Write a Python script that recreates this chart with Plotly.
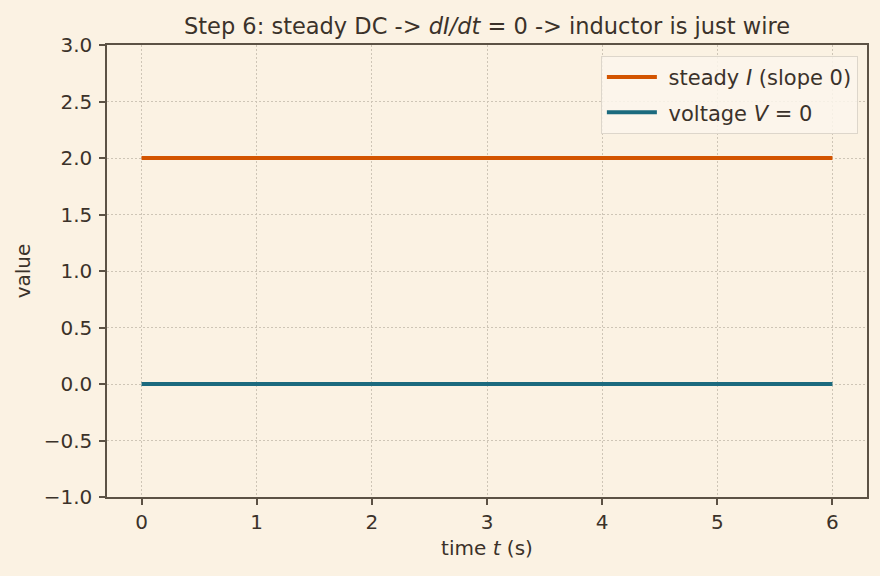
import plotly.graph_objects as go

t = [0, 6]
current = [2, 2]
voltage = [0, 0]

xticks = [0, 1, 2, 3, 4, 5, 6]
yticks = [-1.0, -0.5, 0.0, 0.5, 1.0, 1.5, 2.0, 2.5, 3.0]

bg = "#FBF2E3"
txt = "#3B322A"
axc = "#5C5245"
font = "DejaVu Sans"
pad = "\u00a0"

fig = go.Figure()
fig.add_trace(go.Scatter(x=t, y=current, mode="lines", name=pad + "steady <i>I</i> (slope 0)",
                         legendgroup="a",
                         line=dict(color="#D35400", width=4)))
fig.add_trace(go.Scatter(x=t, y=voltage, mode="lines", name=pad + "voltage <i>V</i> = 0",
                         legendgroup="b",
                         line=dict(color="#1B6A7E", width=4)))

fig.update_layout(
    width=880, height=576,
    paper_bgcolor=bg, plot_bgcolor=bg,
    margin=dict(l=107, r=13, t=45, b=79),
    font=dict(family=font, color=txt, size=19.5),
    title=dict(text="Step 6: steady DC -> <i>dI/dt</i> = 0 -> inductor is just wire",
               x=0.5, xref="paper", xanchor="center", y=1, yref="paper", yanchor="bottom",
               pad=dict(b=11), font=dict(size=22.5, color=txt)),
    showlegend=True,
    legend=dict(x=0.988, y=0.976, xanchor="right", yanchor="top",
                bgcolor="rgba(252,246,236,0.85)", bordercolor="#DDD6CB", borderwidth=1,
                font=dict(size=21, color=txt), tracegroupgap=5, itemwidth=50),
)
fig.update_xaxes(range=[-0.3, 6.3], tickvals=xticks, ticktext=[str(v) for v in xticks],
                 showline=True, linecolor=axc, linewidth=1.5, mirror=True,
                 ticks="outside", ticklen=6, tickcolor=axc, tickwidth=1.5,
                 showgrid=True, gridcolor="#CEC5B6", griddash="1.5px,2.5px", gridwidth=1.2,
                 zeroline=False, title=dict(text="time <i>t</i> (s)", standoff=8, font=dict(size=20)),
                 tickfont=dict(size=20), ticklabelstandoff=0)
fig.update_yaxes(range=[-1.0, 3.0], tickvals=yticks, ticktext=[f"{v:.1f}".replace("-", "−") for v in yticks],
                 showline=True, linecolor=axc, linewidth=1.5, mirror=True,
                 ticks="outside", ticklen=6, tickcolor=axc, tickwidth=1.5,
                 showgrid=True, gridcolor="#CEC5B6", griddash="1.5px,2.5px", gridwidth=1.2,
                 zeroline=False, title=dict(text="value", standoff=8, font=dict(size=20)),
                 tickfont=dict(size=20), ticklabelstandoff=3)

fig.write_html("out.html")
